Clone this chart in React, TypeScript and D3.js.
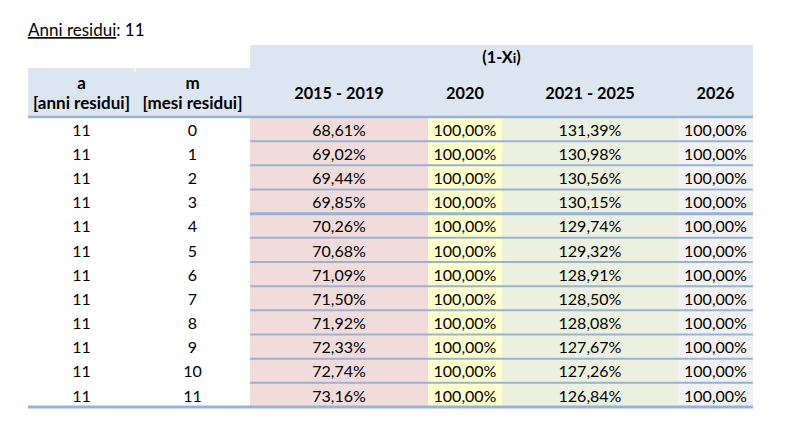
import React from "react";
import * as d3 from "d3";

const titleLabel = "Anni residui";
const titleValue = "11";
const groupHeader = "(1-X";
const groupHeaderSub = "i";
const keyHeaders = [
  ["a", "[anni residui]"],
  ["m", "[mesi residui]"],
];
const periodHeaders = ["2015 - 2019", "2020", "2021 - 2025", "2026"];
const years = [11, 11, 11, 11, 11, 11, 11, 11, 11, 11, 11, 11];
const months = [0, 1, 2, 3, 4, 5, 6, 7, 8, 9, 10, 11];
const v2015_2019 = [68.61, 69.02, 69.44, 69.85, 70.26, 70.68, 71.09, 71.5, 71.92, 72.33, 72.74, 73.16];
const v2020 = [100, 100, 100, 100, 100, 100, 100, 100, 100, 100, 100, 100];
const v2021_2025 = [131.39, 130.98, 130.56, 130.15, 129.74, 129.32, 128.91, 128.5, 128.08, 127.67, 127.26, 126.84];
const v2026 = [100, 100, 100, 100, 100, 100, 100, 100, 100, 100, 100, 100];

// layout (not data)
const W = 812;
const H = 440;
const colEdges = [28, 135, 250, 428, 502, 678, 753];
const headerTopRight = 45;
const headerTopLeft = 68;
const headerBottom = 117;
const tableBottom = 407;
const colFills = ["#f2dcdb", "#ffffcc", "#ebf1de", "#f2f2f2"];
const headerFill = "#dce6f1";
const lineColor = "#95b3d7";
const FONT = "Lato, 'Open Sans', sans-serif";
const FS = 16;
const HFS = 16.3;
const KFS = 17;

const loc = d3.formatLocale({ decimal: ",", thousands: ".", grouping: [3], currency: ["", "€"] });
const fmt = loc.format(".2f");
const pct = (v: number) => fmt(v) + "%";

export default function App() {
  const y = d3.scaleBand<number>().domain(months.map((_, i) => i)).range([headerBottom, tableBottom]).padding(0);
  const colScale = d3.scaleBand<number>().domain(d3.range(6)).range([0, 6]);
  const colX0 = (c: number) => colEdges[colScale(c)!];
  const colX1 = (c: number) => colEdges[colScale(c)! + 1];
  const colMid = (c: number) => (colX0(c) + colX1(c)) / 2;

  const valueCols = [v2015_2019, v2020, v2021_2025, v2026];
  const rowH = y.bandwidth();

  return (
    <div style={{ position: "absolute", left: 0, top: 0 }}>
      <svg width={W} height={H} style={{ display: "block", background: "#fff" }} fontFamily={FONT}>
        {/* title */}
        <text x={28} y={36} fontSize={17} fill="#000">
          <tspan textDecoration="underline">{titleLabel}</tspan>
          <tspan>{": " + titleValue}</tspan>
        </text>

        {/* header backgrounds */}
        <rect x={colEdges[2]} y={headerTopRight} width={colEdges[6] - colEdges[2]} height={headerBottom - headerTopRight} fill={headerFill} />
        <rect x={colEdges[0]} y={headerTopLeft} width={colEdges[2] - colEdges[0]} height={headerBottom - headerTopLeft} fill={headerFill} />
        <line x1={colEdges[1]} x2={colEdges[1]} y1={headerTopLeft} y2={headerTopLeft + 4} stroke="#fff" strokeWidth={1} />

        {/* body column fills */}
        {valueCols.map((_, i) => (
          <rect key={"f" + i} x={colX0(i + 2)} y={headerBottom} width={colX1(i + 2) - colX0(i + 2)} height={tableBottom - headerBottom} fill={colFills[i]} />
        ))}

        {/* row separators in value columns */}
        {months.slice(1).map((_, i) => (
          <line key={"r" + i} x1={colEdges[2]} x2={colEdges[6]} y1={y(i + 1)!} y2={y(i + 1)!} stroke={lineColor} strokeWidth={i + 1 === 4 ? 3 : 2} />
        ))}
        <line x1={colEdges[0]} x2={colEdges[6]} y1={headerBottom} y2={headerBottom} stroke={lineColor} strokeWidth={2.5} />
        <line x1={colEdges[0]} x2={colEdges[6]} y1={tableBottom} y2={tableBottom} stroke={lineColor} strokeWidth={3} />

        {/* headers */}
        <text x={(colEdges[2] + colEdges[6]) / 2} y={57} dy="0.35em" textAnchor="middle" fontSize={HFS} fontWeight="bold" fill="#000">
          {groupHeader}
          <tspan fontSize={HFS * 0.85}>{groupHeaderSub}</tspan>
          <tspan>)</tspan>
        </text>
        {keyHeaders.map((h, i) => (
          <g key={"k" + i}>
            <text x={colMid(i)} y={83} dy="0.35em" textAnchor="middle" fontSize={KFS} fontWeight="bold" fill="#000">{h[0]}</text>
            <text x={colMid(i)} y={103} dy="0.35em" textAnchor="middle" fontSize={KFS} fontWeight="bold" fill="#000">{h[1]}</text>
          </g>
        ))}
        {periodHeaders.map((h, i) => (
          <text key={"p" + i} x={colMid(i + 2)} y={93} dy="0.35em" textAnchor="middle" fontSize={HFS} fontWeight="bold" fill="#000">{h}</text>
        ))}

        {/* body text */}
        {months.map((m, r) => {
          const cy = y(r)! + rowH / 2 + 1;
          return (
            <g key={"row" + r} fontSize={FS} fill="#000">
              <text x={colMid(0)} y={cy} dy="0.35em" textAnchor="middle">{years[r]}</text>
              <text x={colMid(1)} y={cy} dy="0.35em" textAnchor="middle">{m}</text>
              {valueCols.map((vals, c) => (
                <text key={c} x={colMid(c + 2)} y={cy} dy="0.35em" textAnchor="middle">{pct(vals[r])}</text>
              ))}
            </g>
          );
        })}
      </svg>
    </div>
  );
}
